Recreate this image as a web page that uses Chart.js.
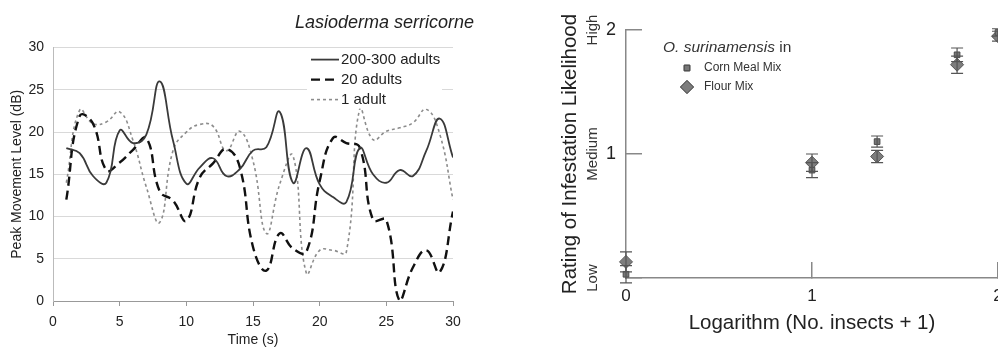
<!DOCTYPE html>
<html>
<head>
<meta charset="utf-8">
<script src="https://cdn.jsdelivr.net/npm/chart.js@4.4.0/dist/chart.umd.min.js"></script>
<style>
    html, body { margin: 0; padding: 0; background: #fff; }
    #leftChart { position: absolute; left: 0; top: 0; }
    #rightChart { position: absolute; left: 500px; top: 0; }
</style>
</head>
<body>
<canvas id="leftChart" width="474" height="349"></canvas>
<canvas id="rightChart" width="498" height="349"></canvas>
<script>
// Left panel: peak movement level over time
const timeSec = [1, 2, 3, 4, 5, 6, 7, 8, 9, 10, 11, 12, 13, 14, 15, 16, 17, 18, 19, 20, 21, 22, 23, 24, 25, 26, 27, 28, 29, 30];
const adults200 = [18.1, 17.5, 14.8, 14.0, 20.2, 18.7, 19.7, 26.0, 19.0, 13.9, 15.8, 16.9, 14.8, 15.6, 17.8, 18.2, 22.4, 14.0, 18.1, 13.8, 12.3, 11.7, 18.1, 15.0, 14.0, 15.5, 14.8, 17.8, 21.6, 17.0];
const adults20 = [12.0, 21.9, 21.0, 15.5, 16.4, 17.9, 19.3, 13.0, 11.9, 9.5, 14.6, 16.3, 18.0, 15.9, 6.4, 3.6, 8.0, 6.2, 5.8, 14.2, 19.3, 18.7, 18.2, 9.6, 9.6, 0.0, 4.0, 6.0, 3.4, 10.6];
const adult1 = [14.0, 22.6, 21.0, 21.2, 22.4, 19.0, 13.5, 9.3, 17.8, 20.0, 20.9, 20.7, 17.8, 20.1, 16.6, 8.0, 13.8, 17.2, 3.3, 6.0, 6.0, 5.8, 22.7, 19.1, 20.1, 20.5, 21.1, 22.7, 19.8, 12.0];
const dbTicks = [0, 5, 10, 15, 20, 25, 30];

// Right panel: infestation rating vs log(no. insects + 1)
const logInsects = [0, 1, 1.35, 1.78, 2];
const cornMeal = [0.03, 0.87, 1.10, 1.80, 1.98];
const cornMealErr = [0.07, 0.06, 0.045, 0.055, 0.03];
const flourMix = [0.13, 0.93, 0.98, 1.72, 1.95];
const flourMixErr = [0.08, 0.07, 0.05, 0.07, 0.04];
const ratingLevels = ['Low', 'Medium', 'High'];

const FONT = '"Liberation Sans", Arial, sans-serif';
Chart.defaults.font.family = FONT;
Chart.defaults.color = '#222';

const toPoints = (xs, ys) => ys.map((v, i) => ({ x: xs[i], y: v }));

// legend drawn inside the plot, top right, on a white box
const lineLegend = {
    id: 'lineLegend',
    afterDatasetsDraw(chart) {
        const { ctx, chartArea } = chart;
        const x0 = chartArea.right - 146;
        const y0 = chartArea.top + 2;
        ctx.save();
        ctx.fillStyle = '#fff';
        ctx.fillRect(x0, y0, 135, 59);
        ctx.font = '15px ' + FONT;
        ctx.textBaseline = 'middle';
        chart.data.datasets.forEach((ds, i) => {
            const y = y0 + 10 + i * 20;
            ctx.strokeStyle = ds.borderColor;
            ctx.lineWidth = ds.borderWidth;
            ctx.setLineDash(ds.borderDash);
            ctx.beginPath();
            ctx.moveTo(x0 + 4, y);
            ctx.lineTo(x0 + 32, y);
            ctx.stroke();
            ctx.setLineDash([]);
            ctx.fillStyle = '#222';
            ctx.fillText(ds.label, x0 + 34, y);
        });
        ctx.restore();
    }
};

new Chart(document.getElementById('leftChart'), {
    type: 'line',
    data: {
        datasets: [
            { label: '200-300 adults', data: toPoints(timeSec, adults200), borderColor: '#3a3a3a', borderWidth: 1.8, borderDash: [] },
            { label: '20 adults', data: toPoints(timeSec, adults20), borderColor: '#111', borderWidth: 2.4, borderDash: [9, 5] },
            { label: '1 adult', data: toPoints(timeSec, adult1), borderColor: '#8c8c8c', borderWidth: 1.6, borderDash: [3, 3] }
        ]
    },
    options: {
        responsive: false,
        animation: false,
        elements: {
            point: { radius: 0 },
            line: { tension: 0.45, fill: false }
        },
        layout: { padding: 0, autoPadding: false },
        plugins: {
            legend: { display: false },
            tooltip: { enabled: false },
            title: {
                display: true,
                text: 'Lasioderma serricorne',
                align: 'end',
                color: '#222',
                font: { size: 18, style: 'italic', weight: 'normal' },
                padding: { top: 12, bottom: 14 }
            }
        },
        scales: {
            x: {
                type: 'linear',
                min: 0,
                max: 30,
                ticks: { stepSize: 5, font: { size: 14 }, color: '#222', padding: 8 },
                grid: { drawOnChartArea: false, tickLength: 5, color: '#999' },
                border: { color: '#999' },
                title: { display: true, text: 'Time (s)', font: { size: 14 }, color: '#222', padding: { top: 0, bottom: 0 } },
                afterFit: (s) => { s.height = 48; s.paddingRight = 21; }
            },
            y: {
                min: 0,
                max: 30,
                afterBuildTicks: (s) => { s.ticks = dbTicks.map(v => ({ value: v })); },
                ticks: { font: { size: 14 }, color: '#222', padding: 9 },
                grid: { color: '#d9d9d9', drawTicks: false },
                border: { color: '#bbb' },
                title: { display: true, text: 'Peak Movement Level (dB)', font: { size: 14 }, color: '#222', padding: { top: 9, bottom: 0 } },
                afterFit: (s) => { s.width = 53; }
            }
        }
    },
    plugins: [lineLegend]
});

// vertical error bars with caps, drawn over the markers
const errorBars = {
    id: 'errorBars',
    afterDatasetsDraw(chart) {
        const { ctx, scales: { x, y } } = chart;
        ctx.save();
        ctx.strokeStyle = '#555';
        ctx.lineWidth = 1.2;
        chart.data.datasets.forEach((ds) => {
            ds.data.forEach((p, i) => {
                const px = x.getPixelForValue(p.x);
                const top = y.getPixelForValue(p.y + ds.errors[i]);
                const bot = y.getPixelForValue(p.y - ds.errors[i]);
                ctx.beginPath();
                ctx.moveTo(px, top); ctx.lineTo(px, bot);
                ctx.moveTo(px - 6, top); ctx.lineTo(px + 6, top);
                ctx.moveTo(px - 6, bot); ctx.lineTo(px + 6, bot);
                ctx.stroke();
            });
        });
        ctx.restore();
    }
};

// Low / Medium / High written beside the y ticks, plus legend
const ratingExtras = {
    id: 'ratingExtras',
    afterDraw(chart) {
        const { ctx, chartArea, scales: { y } } = chart;
        ctx.save();
        ctx.fillStyle = '#333';
        ctx.font = '15px ' + FONT;
        ctx.textAlign = 'center';
        ctx.textBaseline = 'middle';
        ratingLevels.forEach((lbl, i) => {
            ctx.save();
            ctx.translate(chartArea.left - 33, y.getPixelForValue(i));
            ctx.rotate(-Math.PI / 2);
            ctx.fillText(lbl, 0, 0);
            ctx.restore();
        });

        // legend
        const lx = chartArea.left + 37;
        const ly = chartArea.top + 18;
        ctx.textAlign = 'left';
        ctx.font = 'italic 15.5px ' + FONT;
        ctx.fillText('O. surinamensis', lx, ly);
        const w = ctx.measureText('O. surinamensis').width;
        ctx.font = '15.5px ' + FONT;
        ctx.fillText(' in', lx + w, ly);
        ctx.font = '12px ' + FONT;
        chart.data.datasets.forEach((ds, i) => {
            const my = ly + 20 + i * 19;
            Chart.helpers.drawPoint(ctx, {
                pointStyle: ds.pointStyle,
                radius: ds.pointRadius,
                borderWidth: ds.borderWidth
            }, chartArea.left + 61, my);
            ctx.fillStyle = ds.backgroundColor;
            ctx.strokeStyle = ds.borderColor;
            ctx.lineWidth = ds.borderWidth;
            ctx.fill();
            ctx.stroke();
            ctx.fillStyle = '#333';
            ctx.fillText(ds.label, chartArea.left + 78, my);
        });
        ctx.restore();
    }
};

new Chart(document.getElementById('rightChart'), {
    type: 'scatter',
    data: {
        datasets: [
            { label: 'Corn Meal Mix', data: toPoints(logInsects, cornMeal), errors: cornMealErr, pointStyle: 'rect', pointRadius: 4, backgroundColor: '#777', borderColor: '#4a4a4a', borderWidth: 1 },
            { label: 'Flour Mix', data: toPoints(logInsects, flourMix), errors: flourMixErr, pointStyle: 'rectRot', pointRadius: 6.5, backgroundColor: '#7d7d7d', borderColor: '#555', borderWidth: 1 }
        ]
    },
    options: {
        responsive: false,
        animation: false,
        clip: false,
        layout: { padding: { top: 30, right: 0, bottom: 0, left: 0 }, autoPadding: false },
        plugins: {
            legend: { display: false },
            tooltip: { enabled: false }
        },
        scales: {
            x: {
                type: 'linear',
                min: 0,
                max: 2,
                ticks: { stepSize: 1, font: { size: 17 }, color: '#222', padding: 24 },
                grid: { drawOnChartArea: false, tickLength: -16, color: '#888', lineWidth: 1.5 },
                border: { color: '#888', width: 1.5 },
                title: { display: true, text: 'Logarithm (No. insects + 1)', font: { size: 20.5 }, color: '#222', padding: { top: 0, bottom: 13 } },
                afterFit: (s) => { s.height = 71; s.paddingRight = 0; }
            },
            y: {
                min: 0,
                max: 2,
                ticks: { stepSize: 1, font: { size: 18 }, color: '#222', padding: 26, callback: (v) => (v === 0 ? '' : v) },
                grid: { drawOnChartArea: false, tickLength: -16, color: '#888', lineWidth: 1.5 },
                border: { color: '#888', width: 1.5 },
                title: { display: true, text: 'Rating of Infestation Likelihood', font: { size: 20.5 }, color: '#222', padding: { top: 58, bottom: 0 } },
                afterFit: (s) => { s.width = 126; s.paddingTop = 0; }
            }
        }
    },
    plugins: [errorBars, ratingExtras]
});
</script>
</body>
</html>
